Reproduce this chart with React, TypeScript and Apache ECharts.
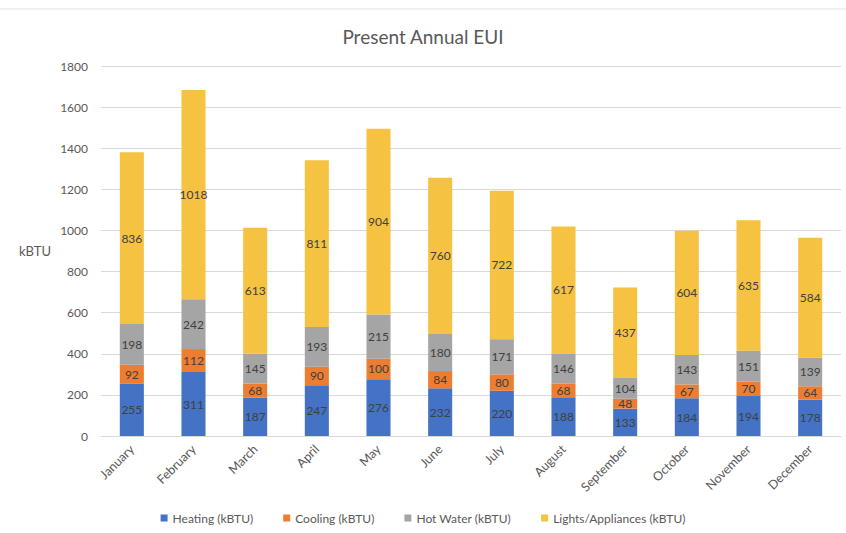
import React, { useEffect, useRef } from "react";
import * as echarts from "echarts";

const months = [
  "January", "February", "March", "April", "May", "June",
  "July", "August", "September", "October", "November", "December",
];
const heating = [255, 311, 187, 247, 276, 232, 220, 188, 133, 184, 194, 178];
const cooling = [92, 112, 68, 90, 100, 84, 80, 68, 48, 67, 70, 64];
const hotWater = [198, 242, 145, 193, 215, 180, 171, 146, 104, 143, 151, 139];
const lights = [836, 1018, 613, 811, 904, 760, 722, 617, 437, 604, 635, 584];

const seriesNames = [
  "Heating (kBTU)",
  "Cooling (kBTU)",
  "Hot Water (kBTU)",
  "Lights/Appliances (kBTU)",
];
const seriesColors = ["#4472C4", "#ED7D31", "#A5A5A5", "#F5C242"];
const seriesData = [heating, cooling, hotWater, lights];

const FONT = "Lato, 'Open Sans', sans-serif";

export default function App() {
  const ref = useRef<HTMLDivElement>(null);

  useEffect(() => {
    if (!ref.current) return;
    const chart = echarts.init(ref.current, undefined, { renderer: "svg" });
    chart.setOption({
      animation: false,
      backgroundColor: "#ffffff",
      textStyle: { fontFamily: FONT },
      title: {
        text: "Present Annual EUI",
        left: "center",
        top: 22,
        textStyle: { fontFamily: FONT, fontSize: 19, fontWeight: "normal", color: "#595959" },
      },
      graphic: [
        {
          type: "line",
          shape: { x1: 0, y1: 9, x2: 846, y2: 9 },
          style: { stroke: "#e4e4e4", lineWidth: 1 },
          silent: true,
        },
      ],
      legend: {
        bottom: 4,
        left: "center",
        itemWidth: 7,
        itemHeight: 7,
        itemGap: 30,
        icon: "rect",
        textStyle: { fontFamily: FONT, fontSize: 12, color: "#595959" },
        data: seriesNames,
      },
      grid: { left: 101, right: 5, top: 66, bottom: 97 },
      xAxis: {
        type: "category",
        data: months,
        axisLine: { lineStyle: { color: "#d9d9d9" } },
        axisTick: { show: false },
        axisLabel: {
          rotate: 45,
          fontFamily: FONT,
          fontSize: 12.5,
          color: "#595959",
          margin: 11,
          interval: 0,
        },
      },
      yAxis: {
        type: "value",
        min: 0,
        max: 1800,
        interval: 200,
        name: "kBTU",
        nameLocation: "middle",
        nameRotate: 0,
        nameGap: 50,
        nameTextStyle: { fontFamily: FONT, fontSize: 13, color: "#595959" },
        axisLine: { show: false },
        axisTick: { show: false },
        splitLine: { lineStyle: { color: "#d9d9d9", width: 1 } },
        axisLabel: {
          fontFamily: FONT,
          fontSize: 12,
          color: "#595959",
          margin: 13,
          formatter: (v: number) => String(v),
        },
      },
      series: seriesNames.map((name, i) => ({
        name,
        type: "bar",
        stack: "total",
        barWidth: "39%",
        data: seriesData[i],
        itemStyle: { color: seriesColors[i] },
        label: {
          show: true,
          position: "inside",
          fontFamily: FONT,
          fontSize: 12,
          color: "#404040",
        },
      })),
    });
    return () => chart.dispose();
  }, []);

  return (
    <div
      ref={ref}
      style={{ position: "fixed", left: 0, top: 0, width: 846, height: 533 }}
    />
  );
}
